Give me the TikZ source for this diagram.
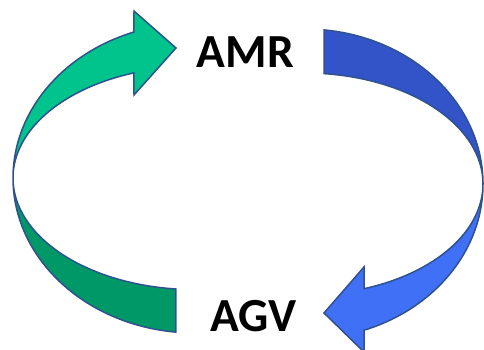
\documentclass[tikz,border=0pt]{standalone}
\usepackage{fontspec}
\setmainfont{Carlito}
\definecolor{greenlight}{HTML}{00C48C}
\definecolor{greendark}{HTML}{009866}
\definecolor{bluedark}{HTML}{3254C8}
\definecolor{bluelight}{HTML}{4070F5}
\definecolor{edgeblue}{HTML}{2F528F}
\begin{document}
\begin{tikzpicture}[x=1pt,y=1pt,
  band/.style={draw=edgeblue, line width=1.5pt, line join=miter},
  caption/.style={font=\fontsize{47.5}{52}\selectfont\bfseries, inner sep=0pt}]
\useasboundingbox (0,0) rectangle (484,349);
\clip (0,0) rectangle (484,349);

% left curved arrow: shaded lower half
\path[band, fill=greendark] (195,171) ++(264:182 and 155)
  arc[start angle=264, end angle=180, x radius=182, y radius=155]
  arc[start angle=180, end angle=264, x radius=182, y radius=111.6] -- cycle;
% left curved arrow: upper half with head
\path[band, fill=greenlight] (13,171)
  arc[start angle=180, end angle=109.6, x radius=182, y radius=155]
  -- (134,338) -- (176,301) -- (134,254) -- (133.95,276.1)
  arc[start angle=109.6, end angle=180, x radius=182, y radius=111.6] -- cycle;

% right curved arrow: shaded upper half
\path[band, fill=bluedark] (305,165) ++(83.87:178 and 155)
  arc[start angle=83.87, end angle=0, x radius=178, y radius=155]
  arc[start angle=0, end angle=83.87, x radius=178, y radius=111] -- cycle;
% right curved arrow: lower half with head
\path[band, fill=bluelight] (483,165)
  arc[start angle=0, end angle=-70.64, x radius=178, y radius=155]
  -- (364,-3) -- (324,36) -- (364,82) -- (364,60.3)
  arc[start angle=-70.64, end angle=0, x radius=178, y radius=111] -- cycle;

\node[caption] (amr) at (245.5,297) {AMR};
\node[caption] (agv) at (253.5,33) {AGV};
\end{tikzpicture}
\end{document}
